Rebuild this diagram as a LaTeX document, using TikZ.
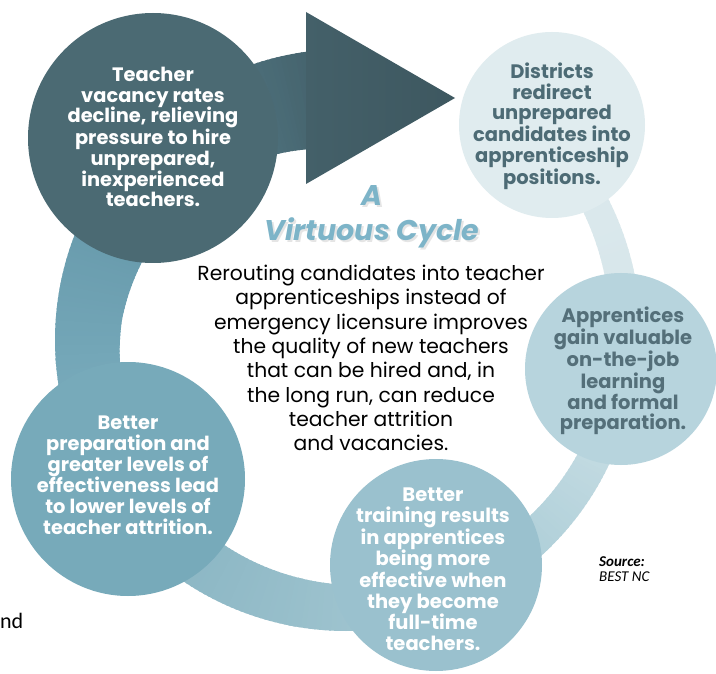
\documentclass[tikz,border=0pt]{standalone}
\usepackage{fontspec}
\setmainfont{Poppins}
\newfontfamily\srcfont{Carlito}
\definecolor{s0}{HTML}{DFEBEE}
\definecolor{s1}{HTML}{D5E5EA}
\definecolor{s2}{HTML}{B2D1DA}
\definecolor{s3}{HTML}{98BFCB}
\definecolor{s4}{HTML}{74A7B8}
\definecolor{s5}{HTML}{6496A8}
\definecolor{s6}{HTML}{4E727E}
\definecolor{s7}{HTML}{435F68}
\definecolor{tlc}{HTML}{4B6A73}
\definecolor{dc}{HTML}{E0ECEF}
\definecolor{dtext}{HTML}{4D6B75}
\definecolor{ac}{HTML}{B7D4DD}
\definecolor{atext}{HTML}{546F79}
\definecolor{bc}{HTML}{9AC1CE}
\definecolor{lc}{HTML}{77AABA}
\definecolor{titlec}{HTML}{7DB4C8}
\newcommand\bandpiece[4]{%
  \foreach \a in {#1,...,#2}{%
    \pgfmathsetmacro\p{100*(\a-#1)/(#2-#1)}%
    \pgfmathsetmacro\b{\a+1.4}%
    \fill[#4!\p!#3] (\a:{rin(\a)}) -- (\a:{rout(\a)}) -- (\b:{rout(\b)}) -- (\b:{rin(\b)}) -- cycle;
  }}
\tikzset{
  bubble/.style={circle, inner sep=0pt, draw=none},
  bubbletext/.style={align=center, font=\bfseries\fontsize{19.5}{20.8}\selectfont, inner sep=0pt},
}
\begin{document}
\begin{tikzpicture}[x=1pt,y=-1pt,
  declare function={rin(\t)=(\t<185)?(270-(\t+30)*0.2093):(225-(\t-185)*0.4133);
                    rout(\t)=(\t<20)?(292+(20-\t)*0.12):291;}]
\useasboundingbox (0,0) rectangle (716,674);
\fill[white] (0,0) rectangle (716,674);
\clip (0,0) rectangle (716,674);
% ring band
\begin{scope}[shift={(346,340)}]
  \bandpiece{-52}{0}{s0}{s1}
  \bandpiece{0}{45}{s1}{s2}
  \bandpiece{45}{100}{s2}{s3}
  \bandpiece{100}{175}{s3}{s4}
  \bandpiece{175}{215}{s4}{s5}
  \bandpiece{215}{245}{s5}{s6}
  \bandpiece{245}{268}{s6}{s7}
\end{scope}
% arrow head
\coordinate (ah1) at (306,12);
\coordinate (ah2) at (455,98);
\coordinate (ah3) at (306,184);
\shade[left color=s7!90!tlc, right color=s7!92!black] (ah1) -- (ah2) -- (ah3) -- cycle;
% circles
\node[bubble, fill=tlc, minimum size=250pt] (c1) at (153,138) {};
\node[bubble, fill=dc, minimum size=186pt] (c2) at (552,125) {};
\node[bubble, fill=ac, minimum size=192pt] (c3) at (621,369) {};
\node[bubble, fill=bc, minimum size=212pt] (c4) at (436,565) {};
\node[bubble, fill=lc, minimum size=234pt] (c5) at (128,479) {};
% circle texts
\node[bubbletext, text=white, font=\bfseries\fontsize{19.4}{20.7}\selectfont] (t1) at (153,137) {Teacher\\vacancy rates\\decline, relieving\\pressure to hire\\unprepared,\\inexperienced\\teachers.};
\node[bubbletext, text=dtext] (t2) at (552,126) {Districts\\redirect\\unprepared\\candidates into\\apprenticeship\\positions.};
\node[bubbletext, text=atext] (t3) at (623,371) {Apprentices\\gain valuable\\on-the-job\\learning\\and formal\\preparation.};
\node[bubbletext, text=white] (t4) at (433,569) {Better\\training results\\in apprentices\\being more\\effective when\\they become\\full-time\\teachers.};
\node[bubbletext, text=white, font=\bfseries\fontsize{19.4}{21}\selectfont] (t5) at (128,475) {Better\\preparation and\\greater levels of\\effectiveness lead\\to lower levels of\\teacher attrition.};
% title
\node[align=center, inner sep=0pt, text=black!10, font=\bfseries\itshape\fontsize{28.5}{35}\selectfont] (ttlsh) at (374,219) {A\\Virtuous Cycle};
\node[align=center, inner sep=0pt, text=titlec, font=\bfseries\itshape\fontsize{28.5}{35}\selectfont] (ttl) at (372,217) {A\\Virtuous Cycle};
% center text
\node[align=center, inner sep=0pt, font=\fontsize{20.3}{24.3}\selectfont] (body) at (371,358) {Rerouting candidates into teacher\\apprenticeships instead of\\emergency licensure improves\\the quality of new teachers\\that can be hired and, in\\the long run, can reduce\\teacher attrition\\and vacancies.};
% source
\node[anchor=north west, align=left, inner sep=0pt, font=\srcfont\fontsize{15}{15.5}\selectfont] (src) at (599,556) {\textbf{\textit{Source:}}\\\textit{BEST NC}};
% stray text
\node[anchor=base west, inner sep=0pt, font=\srcfont\fontsize{22}{24}\selectfont] (nd) at (0,628) {nd};
\end{tikzpicture}
\end{document}
